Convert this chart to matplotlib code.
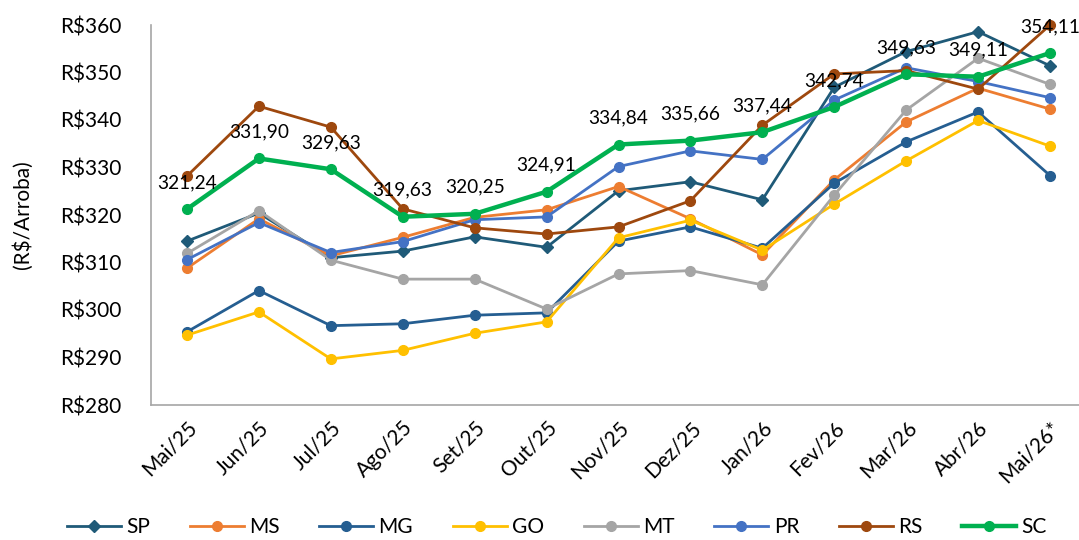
import matplotlib
matplotlib.use("Agg")
import matplotlib.pyplot as plt

months = ["Mai/25", "Jun/25", "Jul/25", "Ago/25", "Set/25", "Out/25", "Nov/25",
          "Dez/25", "Jan/26", "Fev/26", "Mar/26", "Abr/26", "Mai/26*"]

SP = [314.5, 320.4, 311.0, 312.4, 315.4, 313.2, 325.1, 327.0, 323.2, 346.9, 354.4, 358.6, 351.4]
MS = [308.8, 319.2, 311.4, 315.3, 319.5, 321.1, 326.0, 319.2, 311.6, 327.4, 339.6, 346.7, 342.3]
MG = [295.4, 304.1, 296.7, 297.1, 298.9, 299.4, 314.5, 317.5, 313.0, 326.7, 335.4, 341.7, 328.3]
GO = [294.7, 299.6, 289.7, 291.5, 295.1, 297.5, 315.2, 318.9, 312.6, 322.3, 331.4, 339.9, 334.5]
MT = [311.9, 320.9, 310.5, 306.5, 306.5, 300.2, 307.6, 308.3, 305.3, 324.2, 342.1, 353.0, 347.5]
PR = [310.6, 318.4, 312.1, 314.4, 319.0, 319.6, 330.2, 333.5, 331.7, 344.2, 351.0, 348.1, 344.7]
RS = [328.2, 342.9, 338.5, 321.3, 317.3, 316.0, 317.5, 323.0, 338.9, 349.7, 350.4, 346.5, 360.0]
SC = [321.24, 331.90, 329.63, 319.63, 320.25, 324.91, 334.84, 335.66, 337.44, 342.74, 349.63, 349.11, 354.11]

yticks = [280, 290, 300, 310, 320, 330, 340, 350, 360]
ylabel = "(R$/Arroba)"

plt.rcParams['font.family'] = ['Lato', 'DejaVu Sans']

fig = plt.figure(figsize=(10.79, 5.40), dpi=100)
ax = fig.add_axes([151/1079, 135/540, 935/1079, 380/540])

x = list(range(len(months)))
series = [
    ("SP", SP, "#1F5A78", "D", 2.0, 6.5),
    ("MS", MS, "#ED7D31", "o", 2.0, 7),
    ("MG", MG, "#255E91", "o", 2.0, 7),
    ("GO", GO, "#FFC000", "o", 2.0, 7),
    ("MT", MT, "#A5A5A5", "o", 2.0, 7),
    ("PR", PR, "#4472C4", "o", 2.0, 7),
    ("RS", RS, "#9E480E", "o", 2.0, 7),
    ("SC", SC, "#00B050", "o", 3.2, 7),
]
for name, vals, col, mk, lw, ms in series:
    ax.plot(x, vals, color=col, marker=mk, lw=lw, markersize=ms, label=name,
            solid_joinstyle='round', clip_on=False)

for xi, v in zip(x, SC):
    ax.annotate(f"{v:.2f}".replace(".", ","), (xi, v), xytext=(0, 13),
                textcoords="offset points", ha="center", va="bottom",
                fontsize=13.8, color="black")

ax.set_xlim(-0.5, len(months) - 0.5)
ax.set_ylim(280, 360)
ax.set_yticks(yticks)
ax.set_yticklabels([f"R${t}" for t in yticks], fontsize=15)
ax.set_xticks(x)
ax.set_xticklabels(months, rotation=45, ha="right", rotation_mode="anchor", fontsize=15)
ax.tick_params(axis="y", length=0, pad=21)
ax.tick_params(axis="x", length=0, pad=9)
ax.set_ylabel(ylabel, fontsize=15, labelpad=20)
for s in ["top", "right"]:
    ax.spines[s].set_visible(False)
for s in ["left", "bottom"]:
    ax.spines[s].set_color("#A6A6A6")
    ax.spines[s].set_linewidth(1.2)

fig.legend(loc="lower center", ncol=8, frameon=False, fontsize=15,
           bbox_to_anchor=(0.516, -0.03), handlelength=2.6, columnspacing=1.9,
           handletextpad=0.25)

fig.savefig("out.png", dpi=100)
